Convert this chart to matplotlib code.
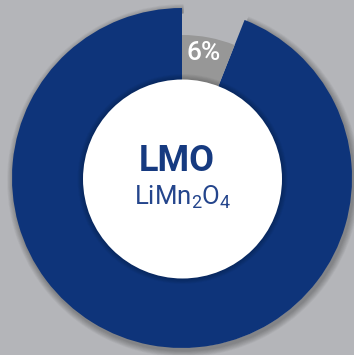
import matplotlib
matplotlib.use("Agg")
import matplotlib.pyplot as plt
from matplotlib.patches import Circle, Wedge

# Data
labels = ["LiMn2O4", "Other"]
values = [94, 6]
pct_label = "6%"
title = "LMO"
formula = r"LiMn$_2$O$_4$"

BG = "#b4b5b9"
BLUE = "#0e347a"
GRAY = "#979797"
FONT = ['Roboto', 'DejaVu Sans']

plt.rcParams['mathtext.fontset'] = 'custom'
plt.rcParams['mathtext.rm'] = 'Roboto'
plt.rcParams['mathtext.it'] = 'Roboto'

W, H = 354, 355
fig = plt.figure(figsize=(W / 100, H / 100), dpi=100, facecolor=BG)
ax = fig.add_axes([0, 0, 1, 1])
ax.set_facecolor(BG)

cx, cy = 182, 177
R = 170

wedges, _ = ax.pie(values, colors=[BLUE, GRAY], startangle=90, counterclock=True,
                   radius=R, center=(cx, cy), frame=True,
                   wedgeprops=dict(linewidth=0))
for w in wedges:
    w.set_zorder(2)
# gray slice is shorter
wedges[1].set_radius(143)

# soft outer shadow behind the blue part only
b = wedges[0]
for k in range(8, 0, -1):
    ax.add_patch(Wedge((cx + 1.5, cy - 2.5), R + k * 0.8, b.theta1, b.theta2, width=k * 0.8 + 3,
                       color='black', alpha=0.035, lw=0, zorder=1))

# inner shadow around white centre
for k in range(6, 0, -1):
    ax.add_patch(Circle((cx + 0.5, cy - 1), 99.5 + k * 0.9, color='black', alpha=0.035, lw=0, zorder=3))
ax.add_patch(Circle((cx + 0.5, cy - 1), 99.5, color='white', lw=0, zorder=4))

ax.set_xlim(0, W)
ax.set_ylim(0, H)
ax.set_aspect('equal')
ax.axis('off')

ax.text(177, H - 161, title, ha='center', va='center', fontsize=26, fontweight='bold',
        family=FONT, color='#163a80', zorder=5)
ax.text(183, H - 205, formula, ha='center', va='baseline', fontsize=18.5,
        family=FONT, color='#24458c', zorder=5)
ax.text(204, H - 53, pct_label, ha='center', va='center', fontsize=19, fontweight='medium',
        family=FONT, color='white', zorder=5)

fig.savefig("out.png", dpi=100, facecolor=BG)
